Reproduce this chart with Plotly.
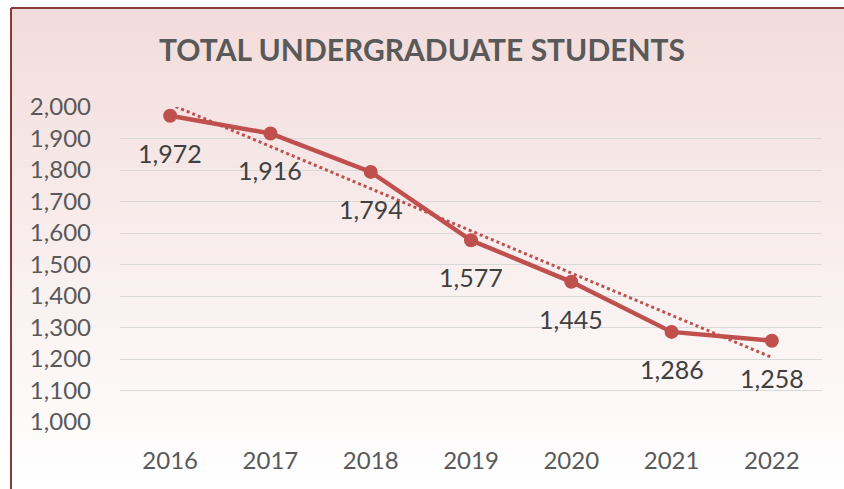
import numpy as np
import plotly.graph_objects as go

years = ["2016", "2017", "2018", "2019", "2020", "2021", "2022"]
students = [1972, 1916, 1794, 1577, 1445, 1286, 1258]
y_ticks = list(range(1000, 2001, 100))
y_tick_labels = [f"{v:,}" for v in y_ticks]
title_text = "TOTAL UNDERGRADUATE STUDENTS"

W, H = 844, 489
L, R, T, B = 120, 22, 107, 67
PW, PH = W - L - R, H - T - B

def px_x(px):
    return (px - L) / PW

def px_y(py):
    return (H - B - py) / PH

LINE_COLOR = "#C0504D"
FONT = "Lato"

# linear trendline (least squares, as in the spreadsheet)
xi = np.arange(len(students))
slope, intercept = np.polyfit(xi, students, 1)
trend = slope * xi + intercept

fig = go.Figure()
fig.add_trace(go.Scatter(
    x=years, y=trend, mode="lines",
    line=dict(color=LINE_COLOR, width=3, dash="dot"),
    hoverinfo="skip", showlegend=False, cliponaxis=False,
))
fig.add_trace(go.Scatter(
    x=years, y=students, mode="lines+markers",
    line=dict(color=LINE_COLOR, width=4.5),
    marker=dict(color=LINE_COLOR, size=14),
    showlegend=False, cliponaxis=False,
))

for i, v in enumerate(students):
    fig.add_annotation(
        x=i, y=v, xref="x", yref="y", text=f"{v:,}", showarrow=False,
        xanchor="center", yanchor="middle", yshift=-37,
        font=dict(family=FONT, size=25, color="#404040"),
    )

# background gradient (pink top -> white bottom)
shapes = []
top_c = np.array([0xF2, 0xDC, 0xDB])
bot_c = np.array([0xFF, 0xFF, 0xFF])
y0p, y1p = 8, H
n = 60
for i in range(n):
    a = y0p + (y1p - y0p) * i / n
    b = y0p + (y1p - y0p) * (i + 1) / n
    t = (i + 0.5) / n
    c = (top_c * (1 - t) + bot_c * t).round().astype(int)
    col = f"rgb({c[0]},{c[1]},{c[2]})"
    shapes.append(dict(type="rect", xref="paper", yref="paper",
                       x0=px_x(11), x1=px_x(W + 2), y0=px_y(b + 0.5), y1=px_y(a),
                       fillcolor=col, line=dict(width=0), layer="below"))
# border
border = "#8E3A38"
shapes.append(dict(type="line", xref="paper", yref="paper",
                   x0=px_x(11), x1=px_x(W + 2), y0=px_y(8), y1=px_y(8),
                   line=dict(color=border, width=2), layer="above"))
shapes.append(dict(type="line", xref="paper", yref="paper",
                   x0=px_x(11), x1=px_x(11), y0=px_y(8), y1=px_y(H + 2),
                   line=dict(color=border, width=2), layer="above"))

fig.update_layout(
    width=W, height=H,
    margin=dict(l=L, r=R, t=T, b=B),
    paper_bgcolor="white",
    plot_bgcolor="rgba(0,0,0,0)",
    shapes=shapes,
    title=dict(text=f"<b>{title_text}</b>", x=0.5, xref="container", xanchor="center",
               y=1 - 50 / H, yref="container", yanchor="middle",
               font=dict(family=FONT, size=30, color="#595959")),
    xaxis=dict(type="category", categoryorder="array", categoryarray=years,
               range=[-0.5, len(years) - 0.5], showgrid=False, zeroline=False,
               showline=False, ticks="", ticklabelstandoff=22,
               tickfont=dict(family=FONT, size=24, color="#595959")),
    yaxis=dict(range=[1000, 2000], tickvals=y_ticks, ticktext=y_tick_labels,
               showgrid=True, gridcolor="#D9D9D9", gridwidth=1.3, zeroline=False,
               showline=False, ticks="", ticklabelstandoff=28,
               tickfont=dict(family=FONT, size=24, color="#595959")),
)

fig.write_html("out.html", config={"displayModeBar": False},
               post_script="document.body.style.margin='0';")
